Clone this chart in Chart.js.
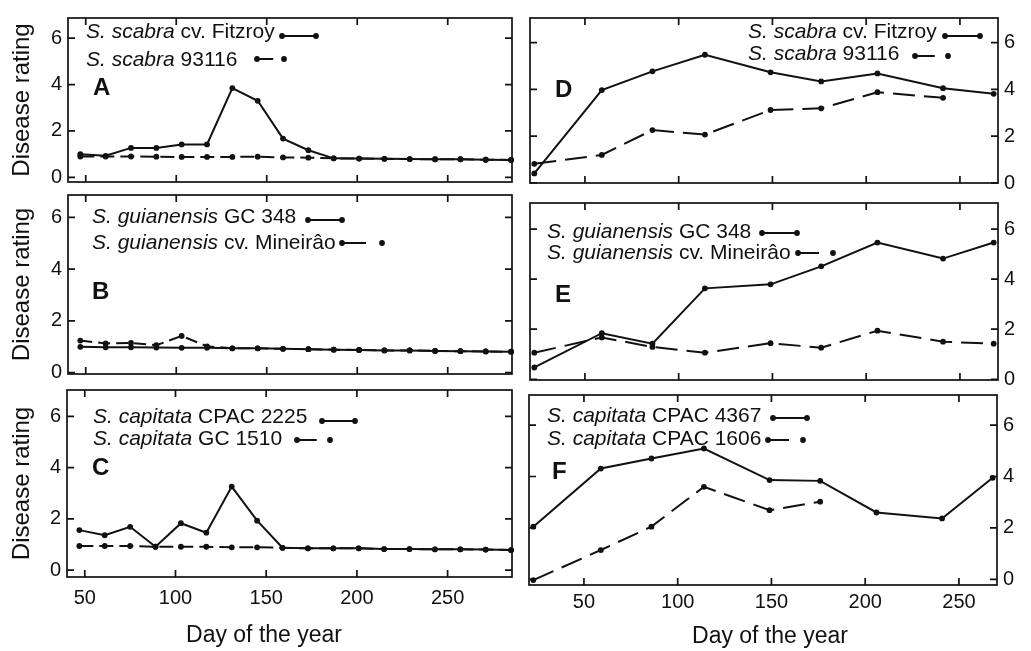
<!DOCTYPE html>
<html>
<head>
<meta charset="utf-8">
<script src="https://cdn.jsdelivr.net/npm/chart.js@4.4.0/dist/chart.umd.min.js"></script>
<style>
  body { margin: 0; background: #fff; }
  #page { position: relative; width: 1031px; height: 651px; overflow: hidden; }
  #page canvas { position: absolute; left: 0; top: 0; }
</style>
</head>
<body>
<div id="page"></div>
<script>
// sampling days
const daysLeft = [47, 61, 75, 89, 103, 117, 131, 145, 159, 173, 187, 201, 215, 229, 243, 257, 271, 285];
const daysRight = [23, 59, 86, 114, 149, 176, 206, 241, 268];
const xTicks = [50, 100, 150, 200, 250];
const yTicks = [0, 2, 4, 6];

// left column
const fitzroyA = [1.0, 0.93, 1.27, 1.27, 1.42, 1.42, 3.85, 3.3, 1.67, 1.17, 0.82, 0.81, 0.8, 0.79, 0.78, 0.78, 0.76, 0.75];
const scabra93116A = [0.9, 0.9, 0.9, 0.89, 0.88, 0.88, 0.88, 0.89, 0.86, 0.85, 0.82, 0.81, 0.8, 0.79, 0.78, 0.78, 0.76, 0.75];
const gc348B = [1.0, 0.98, 0.98, 0.97, 0.96, 0.96, 0.94, 0.94, 0.92, 0.91, 0.89, 0.88, 0.86, 0.86, 0.84, 0.83, 0.82, 0.81];
const mineiraoB = [1.24, 1.13, 1.15, 1.06, 1.42, 1.02, 0.94, 0.94, 0.92, 0.91, 0.89, 0.88, 0.86, 0.86, 0.84, 0.83, 0.82, 0.81];
const cpac2225C = [1.56, 1.36, 1.69, 0.91, 1.83, 1.46, 3.26, 1.93, 0.87, 0.85, 0.85, 0.85, 0.82, 0.82, 0.81, 0.81, 0.8, 0.78];
const gc1510C = [0.94, 0.94, 0.94, 0.91, 0.91, 0.91, 0.89, 0.89, 0.87, 0.85, 0.85, 0.85, 0.82, 0.82, 0.81, 0.81, 0.8, 0.78];

// right column
const fitzroyD = [0.41, 3.97, 4.77, 5.48, 4.73, 4.34, 4.68, 4.05, 3.81];
const scabra93116D = [0.82, 1.2, 2.26, 2.07, 3.12, 3.19, 3.88, 3.64, null];
const gc348E = [0.47, 1.84, 1.42, 3.63, 3.79, 4.51, 5.46, 4.82, 5.46];
const mineiraoE = [1.06, 1.67, 1.29, 1.06, 1.44, 1.26, 1.94, 1.5, 1.42];
const cpac4367F = [2.05, 4.31, 4.7, 5.09, 3.86, 3.83, 2.6, 2.37, 3.95];
const cpac1606F = [-0.03, 1.14, 2.05, 3.6, 2.69, 3.02, null, null, null];

const FAMILY = '"Liberation Sans", Arial, Helvetica, sans-serif';
const INK = '#111';
const W = 1031, H = 651;

Chart.defaults.font.family = FAMILY;
Chart.defaults.color = INK;

const panels = [
  { letter: 'A', box: [68, 10, 512, 182], days: daysLeft, xr: [40.2, 285.5], yr: [-0.2, 6.87],
    solid: fitzroyA, dashed: scabra93116A, dash: [14, 6], side: 'left', xLabels: false,
    letterAt: [93, 88], legendX: 86,
    legend: [
      { sp: 'S. scabra', rest: ' cv. Fitzroy', y: 32, s: [282, 316, 36], dashed: false },
      { sp: 'S. scabra', rest: ' 93116', y: 60, s: [257, 284, 59], dashed: true }
    ] },
  { letter: 'B', box: [68, 195, 512, 374], days: daysLeft, xr: [40.2, 285.5], yr: [-0.05, 6.86],
    solid: gc348B, dashed: mineiraoB, dash: [12, 6], side: 'left', xLabels: false,
    letterAt: [92, 292], legendX: 92,
    legend: [
      { sp: 'S. guianensis', rest: ' GC 348', y: 217, s: [308, 342, 220], dashed: false },
      { sp: 'S. guianensis', rest: ' cv. Mineirâo', y: 243, s: [342, 382, 243], dashed: true }
    ] },
  { letter: 'C', box: [67, 390, 512, 577], days: daysLeft, xr: [40.2, 285.5], yr: [-0.27, 7.03],
    solid: cpac2225C, dashed: gc1510C, dash: [14, 6], side: 'left', xLabels: true, xPad: 9,
    letterAt: [92, 468], legendX: 93, xTitle: [264, 636],
    legend: [
      { sp: 'S. capitata', rest: ' CPAC 2225', y: 417, s: [322, 355, 421], dashed: false },
      { sp: 'S. capitata', rest: ' GC 1510', y: 439, s: [297, 330, 440], dashed: true }
    ] },
  { letter: 'D', box: [530, 13, 998, 183], days: daysRight, xr: [20.7, 270.3], yr: [0, 7.05],
    solid: fitzroyD, dashed: scabra93116D, dash: [22, 9], side: 'right', xLabels: false,
    letterAt: [555, 90], legendX: 748,
    legend: [
      { sp: 'S. scabra', rest: ' cv. Fitzroy', y: 32, s: [945, 980, 36], dashed: false },
      { sp: 'S. scabra', rest: ' 93116', y: 54, s: [915, 948, 56], dashed: true }
    ] },
  { letter: 'E', box: [530, 203, 998, 380], days: daysRight, xr: [20.7, 270.3], yr: [-0.03, 7.04],
    solid: gc348E, dashed: mineiraoE, dash: [22, 9], side: 'right', xLabels: false,
    letterAt: [555, 295], legendX: 547,
    legend: [
      { sp: 'S. guianensis', rest: ' GC 348', y: 232, s: [762, 797, 233], dashed: false },
      { sp: 'S. guianensis', rest: ' cv. Mineirâo', y: 253, s: [798, 833, 253], dashed: true }
    ] },
  { letter: 'F', box: [529, 395, 997, 585], days: daysRight, xr: [20.7, 270.3], yr: [-0.22, 7.17],
    solid: cpac4367F, dashed: cpac1606F, dash: [22, 9], side: 'right', xLabels: true, xPad: 5,
    letterAt: [552, 472], legendX: 547, xTitle: [770, 637],
    legend: [
      { sp: 'S. capitata', rest: ' CPAC 4367', y: 416, s: [773, 807, 418], dashed: false },
      { sp: 'S. capitata', rest: ' CPAC 1606', y: 439, s: [768, 803, 440], dashed: true }
    ] }
];

function dot(ctx, x, y) {
  ctx.beginPath();
  ctx.arc(x, y, 2.9, 0, Math.PI * 2);
  ctx.fill();
}

// frame, inward ticks, panel letter, legend and x title
const panelDecor = {
  id: 'panelDecor',
  afterDraw(chart, args, o) {
    const ctx = chart.ctx;
    const { left, top, right, bottom } = chart.chartArea;
    const xs = chart.scales.x, ys = chart.scales.y;
    ctx.save();
    ctx.strokeStyle = INK;
    ctx.fillStyle = INK;
    ctx.lineWidth = 1.7;
    ctx.strokeRect(left, top, right - left, bottom - top);
    ctx.beginPath();
    xs.ticks.forEach(t => {
      const px = xs.getPixelForValue(t.value);
      ctx.moveTo(px, bottom); ctx.lineTo(px, bottom - 7);
      ctx.moveTo(px, top); ctx.lineTo(px, top + 7);
    });
    ys.ticks.forEach(t => {
      const py = ys.getPixelForValue(t.value);
      ctx.moveTo(left, py); ctx.lineTo(left + 7, py);
      ctx.moveTo(right, py); ctx.lineTo(right - 7, py);
    });
    ctx.stroke();

    ctx.textBaseline = 'middle';
    ctx.textAlign = 'left';
    ctx.font = 'bold 24px ' + FAMILY;
    ctx.fillText(o.letter, o.letterAt[0], o.letterAt[1]);

    o.legend.forEach(e => {
      ctx.font = 'italic 21px ' + FAMILY;
      ctx.fillText(e.sp, o.legendX, e.y);
      const w = ctx.measureText(e.sp).width;
      ctx.font = '21px ' + FAMILY;
      ctx.fillText(e.rest, o.legendX + w, e.y);
      const [x1, x2, y] = e.s;
      ctx.lineWidth = 2;
      ctx.beginPath();
      ctx.moveTo(x1, y);
      ctx.lineTo(e.dashed ? x1 + (x2 - x1) * 0.6 : x2, y);
      ctx.stroke();
      dot(ctx, x1, y);
      dot(ctx, x2, y);
    });

    if (o.xTitle) {
      ctx.textAlign = 'center';
      ctx.font = '23px ' + FAMILY;
      ctx.fillText('Day of the year', o.xTitle[0], o.xTitle[1]);
    }
    ctx.restore();
  }
};

function series(days, vals) {
  return days.map((d, i) => ({ x: d, y: vals[i] })).filter(p => p.y !== null);
}

const page = document.getElementById('page');

panels.forEach(p => {
  const [L, T, R, B] = p.box;
  const canvas = document.createElement('canvas');
  canvas.width = W;
  canvas.height = H;
  page.appendChild(canvas);

  const leftSide = p.side === 'left';
  const yLeft = 22 - 14.4;          // title centre near x = 22
  const yWidth = leftSide ? L - yLeft : W - R;
  const xHeight = p.xLabels ? 40 : 1;

  const lineStyle = {
    borderColor: INK,
    backgroundColor: INK,
    borderWidth: 2,
    pointRadius: 2.9,
    pointBorderWidth: 0,
    pointBackgroundColor: INK,
    tension: 0,
    clip: false
  };

  new Chart(canvas, {
    type: 'line',
    data: {
      datasets: [
        Object.assign({ data: series(p.days, p.solid) }, lineStyle),
        Object.assign({ data: series(p.days, p.dashed), borderDash: p.dash }, lineStyle)
      ]
    },
    options: {
      responsive: false,
      animation: false,
      events: [],
      layout: {
        padding: {
          left: leftSide ? yLeft : L,
          right: leftSide ? W - R : 0,
          top: T,
          bottom: H - B - xHeight
        }
      },
      plugins: {
        legend: { display: false },
        tooltip: { enabled: false },
        panelDecor: {
          letter: p.letter,
          letterAt: p.letterAt,
          legendX: p.legendX,
          legend: p.legend,
          xTitle: p.xTitle
        }
      },
      scales: {
        x: {
          type: 'linear',
          min: p.xr[0],
          max: p.xr[1],
          afterBuildTicks: s => { s.ticks = xTicks.map(v => ({ value: v })); },
          afterFit: s => { s.height = xHeight; },
          grid: { display: false, drawTicks: false, tickLength: 0 },
          border: { display: false },
          ticks: { display: p.xLabels, font: { size: 20 }, color: INK, padding: p.xPad || 0, maxRotation: 0 }
        },
        y: {
          type: 'linear',
          position: p.side,
          min: p.yr[0],
          max: p.yr[1],
          afterBuildTicks: s => { s.ticks = yTicks.map(v => ({ value: v })); },
          afterFit: s => { s.width = yWidth; },
          grid: { display: false, drawTicks: false, tickLength: 0 },
          border: { display: false },
          title: {
            display: leftSide,
            text: 'Disease rating',
            font: { size: 24 },
            color: INK,
            padding: 0
          },
          ticks: { font: { size: 20 }, color: INK, padding: 6 }
        }
      }
    },
    plugins: [panelDecor]
  });
});
</script>
</body>
</html>
